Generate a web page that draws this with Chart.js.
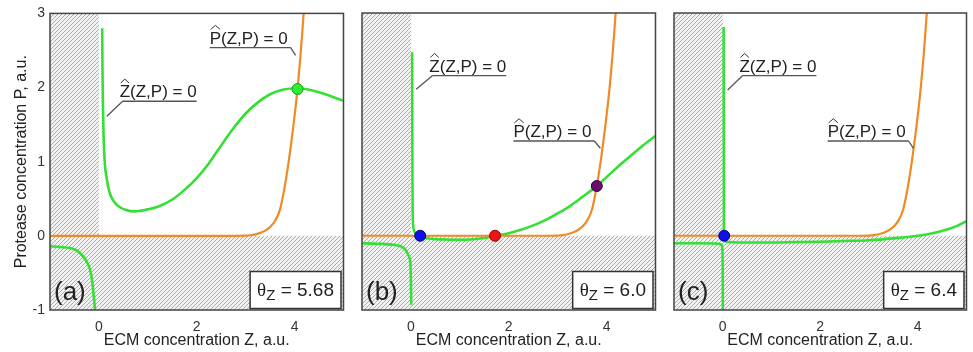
<!DOCTYPE html>
<html>
<head>
<meta charset="utf-8">
<script src="https://cdn.jsdelivr.net/npm/chart.js@4.4.0/dist/chart.umd.min.js"></script>
<style>
  html, body { margin: 0; padding: 0; background: #fff; }
  #wrap { position: relative; width: 973px; height: 352px; overflow: hidden; }
  #wrap canvas { position: absolute; top: 0; }
</style>
</head>
<body>
<div id="wrap">
  <canvas id="chartA" width="350" height="352" style="left:0px"></canvas>
  <canvas id="chartB" width="312" height="352" style="left:350px"></canvas>
  <canvas id="chartC" width="311" height="352" style="left:662px"></canvas>
</div>
<script>
'use strict';
// tick labels
var zTicks = [0, 2, 4];
var pTicks = [-1, 0, 1, 2, 3];
var panelNames = ['(a)', '(b)', '(c)'];
var thetaValues = ['5.68', '6.0', '6.4'];

// P nullcline, the same curve in all three panels
var pNullZ = [-1, 2.8, 3.0, 3.1, 3.2, 3.3, 3.4, 3.5, 3.6, 3.7, 3.8, 3.9, 4.0, 4.06, 4.12, 4.18, 4.24];
var pNullP = [0, 0, 0.002, 0.008, 0.02, 0.04, 0.07, 0.12, 0.2, 0.35, 0.67, 1.1, 1.62, 1.98, 2.42, 2.95, 3.5];

// Z nullcline, panel (a)
var zNullZa = [0.067, 0.072, 0.08, 0.095, 0.12, 0.16, 0.22, 0.3, 0.4, 0.55, 0.73, 0.95, 1.23, 1.5, 1.75, 2.0, 2.25, 2.5, 2.75, 3.0, 3.25, 3.5, 3.75, 4.06, 4.3, 4.53, 4.8, 5.04];
var zNullPa = [2.8, 2.3, 1.85, 1.35, 0.98, 0.77, 0.58, 0.47, 0.4, 0.35, 0.33, 0.35, 0.4, 0.49, 0.62, 0.78, 0.98, 1.22, 1.45, 1.65, 1.8, 1.91, 1.97, 1.99, 1.97, 1.93, 1.87, 1.81];
var zLowZa = [-1, -0.8, -0.59, -0.45, -0.32, -0.24, -0.18, -0.14, -0.11, -0.08, -0.075];
var zLowPa = [-0.14, -0.15, -0.165, -0.2, -0.28, -0.36, -0.46, -0.6, -0.78, -1.0, -1.05];

// Z nullcline, panel (b)
var zNullZb = [0.025, 0.028, 0.031, 0.035, 0.045, 0.07, 0.12, 0.19, 0.4, 0.7, 1.0, 1.23, 1.5, 1.72, 2.0, 2.25, 2.5, 2.75, 3.0, 3.25, 3.5, 3.8, 4.05, 4.3, 4.5, 4.75, 5.03];
var zNullPb = [2.47, 1.5, 0.8, 0.35, 0.15, 0.06, 0.015, -0.01, -0.04, -0.05, -0.055, -0.05, -0.03, 0, 0.035, 0.08, 0.14, 0.21, 0.3, 0.4, 0.52, 0.67, 0.82, 0.97, 1.08, 1.22, 1.36];
var zLowZb = [-1, -0.6, -0.32, -0.18, -0.11, -0.06, -0.03, -0.01, 0, 0.006];
var zLowPb = [-0.1, -0.11, -0.125, -0.15, -0.19, -0.25, -0.3, -0.37, -0.6, -0.93];

// Z nullcline, panel (c)
var zNullZc = [0.018, 0.02, 0.022, 0.024, 0.03, 0.045, 0.07, 0.12, 0.3, 0.6, 1.0, 1.5, 2.0, 2.5, 3.0, 3.5, 4.0, 4.3, 4.6, 4.8, 5.01];
var zNullPc = [2.81, 1.5, 0.5, 0, -0.04, -0.065, -0.078, -0.085, -0.09, -0.09, -0.09, -0.085, -0.08, -0.07, -0.06, -0.035, 0, 0.035, 0.085, 0.13, 0.2];
var zLowZc = [-1, -0.5, -0.15, -0.06, -0.03, -0.015, -0.007, -0.002, 0, 0.002];
var zLowPc = [-0.1, -0.1, -0.105, -0.11, -0.12, -0.14, -0.2, -0.35, -0.6, -1.05];

// fixed points (intersections)
var fixedZa = [4.06];
var fixedPa = [1.98];
var fixedZb = [0.19, 1.72, 3.8];
var fixedPb = [0, 0, 0.67];
var fixedZc = [0.03];
var fixedPc = [0];

var FONT = '"Liberation Sans", Arial, Helvetica, sans-serif';
Chart.defaults.font.family = FONT;

function toPoints(zs, ps) {
  return zs.map(function(z, i) { return {x: z, y: ps[i]}; });
}

var hatch = null;
function getHatch(ctx) {
  if (hatch) return hatch;
  var c = document.createElement('canvas');
  c.width = 4; c.height = 4;
  var g = c.getContext('2d');
  g.fillStyle = '#f2f2f2';
  g.fillRect(0, 0, 4, 4);
  g.strokeStyle = '#ababab';
  g.lineWidth = 1;
  g.beginPath();
  g.moveTo(0, 4); g.lineTo(4, 0);
  g.moveTo(-1, 1); g.lineTo(1, -1);
  g.moveTo(3, 5); g.lineTo(5, 3);
  g.stroke();
  hatch = ctx.createPattern(c, 'repeat');
  return hatch;
}

function drawHat(ctx, x, w, capTop) {
  ctx.beginPath();
  ctx.moveTo(x + 1, capTop - 2);
  ctx.lineTo(x + w / 2, capTop - 6);
  ctx.lineTo(x + w - 1, capTop - 2);
  ctx.stroke();
}

// note: z,p = where underline meets the leader, toZ,toP = leader end near the curve
function drawNote(ctx, xs, ys, note, letter) {
  var text = letter + '(Z,P) = 0';
  var ux = xs.getPixelForValue(note.z), uy = ys.getPixelForValue(note.p);
  var lx = xs.getPixelForValue(note.toZ), ly = ys.getPixelForValue(note.toP);
  ctx.font = '17px ' + FONT;
  var w = ctx.measureText(text).width;
  var cw = ctx.measureText(letter).width;
  var tx, u0, u1;
  if (note.textRight) {
    tx = ux - 3; u0 = ux; u1 = tx + w;
  } else {
    tx = ux - 3 - w; u0 = tx; u1 = ux;
  }
  var base = uy - 4;
  ctx.fillStyle = '#222';
  ctx.textAlign = 'left';
  ctx.textBaseline = 'alphabetic';
  ctx.fillText(text, tx, base);
  ctx.strokeStyle = '#333';
  ctx.lineWidth = 1;
  drawHat(ctx, tx, cw, base - 12.2);
  ctx.strokeStyle = '#555';
  ctx.lineWidth = 1.3;
  ctx.beginPath();
  ctx.moveTo(u0, uy); ctx.lineTo(u1, uy);
  ctx.moveTo(ux, uy); ctx.lineTo(lx, ly);
  ctx.stroke();
}

function decorPlugin(cfg) {
  return {
    id: 'decor',
    beforeDatasetsDraw: function(chart) {
      var a = chart.chartArea, ctx = chart.ctx;
      var x0 = chart.scales.x.getPixelForValue(0);
      var y0 = chart.scales.y.getPixelForValue(0);
      ctx.save();
      ctx.fillStyle = getHatch(ctx);
      ctx.fillRect(a.left, a.top, x0 - a.left, a.bottom - a.top);
      ctx.fillRect(x0, y0, a.right - x0, a.bottom - y0);
      ctx.restore();
    },
    afterDraw: function(chart) {
      var a = chart.chartArea, ctx = chart.ctx;
      var xs = chart.scales.x, ys = chart.scales.y;
      ctx.save();
      drawNote(ctx, xs, ys, cfg.zNote, 'Z');
      drawNote(ctx, xs, ys, cfg.pNote, 'P');

      // panel letter
      ctx.font = '26px ' + FONT;
      ctx.fillStyle = '#222';
      ctx.textAlign = 'left';
      ctx.textBaseline = 'alphabetic';
      ctx.fillText(panelNames[cfg.index], a.left + 4, a.bottom - 10);

      // theta box
      var mainFont = '19px ' + FONT;
      var rest = ' = ' + thetaValues[cfg.index];
      ctx.font = '19px "Liberation Serif", "Times New Roman", serif';
      var wTh = ctx.measureText('\u03b8').width;
      ctx.font = '15px ' + FONT;
      var wZ = ctx.measureText('Z').width;
      ctx.font = mainFont;
      var wRest = ctx.measureText(rest).width;
      var boxW = wTh + wZ + wRest + 14, boxH = 37;
      var bx = a.right - 2.5 - boxW, by = a.bottom - 1.5 - boxH;
      ctx.fillStyle = '#fff';
      ctx.fillRect(bx, by, boxW, boxH);
      ctx.strokeStyle = '#333';
      ctx.lineWidth = 1.5;
      ctx.strokeRect(bx, by, boxW, boxH);
      var tx = bx + 7, base = by + boxH - 13;
      ctx.fillStyle = '#222';
      ctx.font = '19px "Liberation Serif", "Times New Roman", serif';
      ctx.fillText('\u03b8', tx, base);
      ctx.font = '15px ' + FONT;
      ctx.fillText('Z', tx + wTh, base + 4);
      ctx.font = mainFont;
      ctx.fillText(rest, tx + wTh + wZ, base);

      // frame
      ctx.strokeStyle = '#444';
      ctx.lineWidth = 1.5;
      ctx.strokeRect(a.left, a.top, a.right - a.left, a.bottom - a.top);
      ctx.restore();
    }
  };
}

function curve(points, color, width, order) {
  return {
    data: points,
    borderColor: color,
    borderWidth: width,
    pointRadius: 0,
    fill: false,
    cubicInterpolationMode: 'monotone',
    order: order
  };
}

function makePanel(cfg) {
  var datasets = [
    {
      data: toPoints(cfg.fixedZ, cfg.fixedP),
      showLine: false,
      pointRadius: 5.5,
      pointBorderWidth: 1,
      pointBackgroundColor: cfg.dotFill,
      pointBorderColor: cfg.dotEdge,
      order: 0
    },
    curve(toPoints(pNullZ, pNullP), '#f08a24', 2.2, 1),
    curve(toPoints(cfg.upperZ, cfg.upperP), '#35e035', 2.6, 2),
    curve(toPoints(cfg.lowerZ, cfg.lowerP), '#35e035', 2.6, 2)
  ];
  var showY = cfg.index === 0;
  return new Chart(document.getElementById(cfg.canvas), {
    type: 'line',
    data: {datasets: datasets},
    options: {
      responsive: false,
      animation: false,
      events: [],
      layout: {padding: {left: 0, right: cfg.padRight, top: 13, bottom: 0}},
      plugins: {legend: {display: false}, tooltip: {enabled: false}},
      scales: {
        x: {
          type: 'linear', min: -1, max: 5,
          grid: {display: false, drawTicks: false},
          border: {display: false},
          afterBuildTicks: function(s) { s.ticks = zTicks.map(function(v) { return {value: v}; }); },
          afterFit: function(s) { s.height = 42; },
          ticks: {padding: 9, color: '#333', font: {size: 14}},
          title: {display: true, text: 'ECM concentration Z, a.u.', color: '#222',
                  font: {size: 16}, padding: {top: 0, bottom: 2}}
        },
        y: {
          type: 'linear', min: -1, max: 3,
          grid: {display: false, drawTicks: false},
          border: {display: false},
          afterBuildTicks: function(s) { s.ticks = pTicks.map(function(v) { return {value: v}; }); },
          afterFit: function(s) { s.width = cfg.yWidth; },
          ticks: {display: showY, padding: 5, color: '#333', font: {size: 14}},
          title: {display: showY, text: 'Protease concentration P, a.u.', color: '#222',
                  font: {size: 16}, padding: {top: 12, bottom: 0}}
        }
      }
    },
    plugins: [decorPlugin(cfg)]
  });
}

makePanel({
  index: 0, canvas: 'chartA', yWidth: 50, padRight: 2,
  upperZ: zNullZa, upperP: zNullPa, lowerZ: zLowZa, lowerP: zLowPa,
  fixedZ: fixedZa, fixedP: fixedPa,
  dotFill: ['#2bef2b'], dotEdge: ['#179a17'],
  zNote: {z: 0.485, p: 1.815, toZ: 0.162, toP: 1.613, textRight: true},
  pNote: {z: 3.92, p: 2.539, toZ: 4.02, toP: 2.435, textRight: false}
});

makePanel({
  index: 1, canvas: 'chartB', yWidth: 12, padRight: 2,
  upperZ: zNullZb, upperP: zNullPb, lowerZ: zLowZb, lowerP: zLowPb,
  fixedZ: fixedZb, fixedP: fixedPb,
  dotFill: ['#1010e6', '#ee1515', '#6c0c6c'], dotEdge: ['#000090', '#a00000', '#3a003a'],
  zNote: {z: 0.438, p: 2.156, toZ: 0.107, toP: 1.972, textRight: true},
  pNote: {z: 3.75, p: 1.276, toZ: 3.873, toP: 1.178, textRight: false}
});

makePanel({
  index: 2, canvas: 'chartC', yWidth: 12, padRight: 1,
  upperZ: zNullZc, upperP: zNullPc, lowerZ: zLowZc, lowerP: zLowPc,
  fixedZ: fixedZc, fixedP: fixedPc,
  dotFill: ['#1010e6'], dotEdge: ['#000090'],
  zNote: {z: 0.404, p: 2.156, toZ: 0.101, toP: 1.963, textRight: true},
  pNote: {z: 3.812, p: 1.276, toZ: 3.913, toP: 1.178, textRight: false}
});
</script>
</body>
</html>
